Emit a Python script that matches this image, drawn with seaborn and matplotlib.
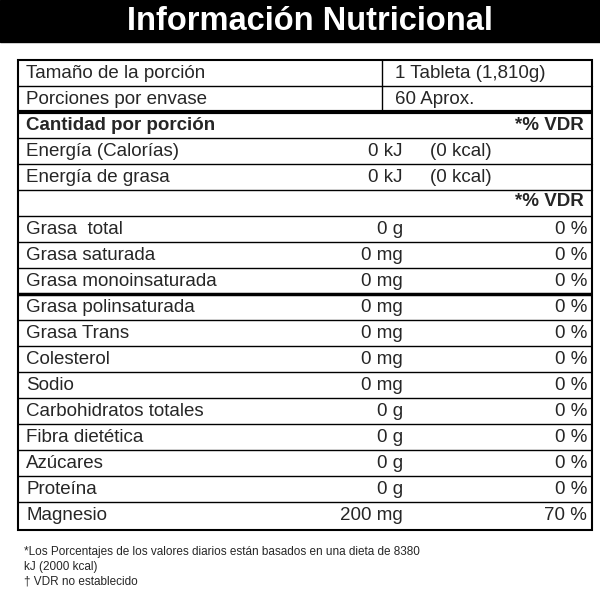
import matplotlib
matplotlib.use("Agg")
import matplotlib.pyplot as plt
import seaborn as sns

sns.set_style("white")
plt.rcParams['font.family'] = ['Liberation Sans', 'DejaVu Sans']

title = "Información Nutricional"
header_labels = ["Tamaño de la porción", "Porciones por envase"]
header_values = ["1 Tableta (1,810g)", "60 Aprox."]
energy_labels = ["Energía (Calorías)", "Energía de grasa"]
energy_kj = ["0 kJ", "0 kJ"]
energy_kcal = ["(0 kcal)", "(0 kcal)"]
nutrients = ["Grasa  total", "Grasa saturada", "Grasa monoinsaturada", "Grasa polinsaturada",
             "Grasa Trans", "Colesterol", "Sodio", "Carbohidratos totales", "Fibra dietética",
             "Azúcares", "Proteína", "Magnesio"]
amounts = ["0 g", "0 mg", "0 mg", "0 mg", "0 mg", "0 mg", "0 mg", "0 g", "0 g", "0 g", "0 g", "200 mg"]
percents = ["0 %", "0 %", "0 %", "0 %", "0 %", "0 %", "0 %", "0 %", "0 %", "0 %", "0 %", "70 %"]
footnote = ["*Los Porcentajes de los valores diarios están basados en una dieta de 8380",
            "kJ (2000 kcal)", "† VDR no establecido"]

fig = plt.figure(figsize=(6, 6), dpi=100)
ax = fig.add_axes([0, 0, 1, 1])
ax.set_xlim(0, 600); ax.set_ylim(600, 0); ax.axis("off")

ax.add_patch(plt.Rectangle((0, 0), 600, 42, color="black"))
ax.text(310, 22, title, color="white", fontsize=23.5, fontweight="bold", ha="center", va="center")

L, R = 18, 592
top, rh = 60, 26
ax.add_patch(plt.Rectangle((L, top), R - L, 470, fill=False, lw=1.5, color="black"))
fs = 13.5
y = top + rh / 2 + 1
for lab, val in zip(header_labels, header_values):
    ax.text(26, y, lab, fontsize=fs, va="center")
    ax.text(395, y, val, fontsize=fs, va="center")
    y += rh
ax.plot([382, 382], [top, top + 2 * rh], color="black", lw=1)
ax.plot([L, R], [top + rh, top + rh], color="black", lw=1)
ax.plot([L, R], [top + 2 * rh, top + 2 * rh], color="black", lw=3, solid_capstyle="butt")
ax.text(26, y, "Cantidad por porción", fontsize=fs, fontweight="bold", va="center")
ax.text(584, y, "*% VDR", fontsize=fs, fontweight="bold", va="center", ha="right")
y += rh
for i, (lab, kj, kc) in enumerate(zip(energy_labels, energy_kj, energy_kcal)):
    ax.plot([L, R], [y - rh / 2 - 1, y - rh / 2 - 1], color="black", lw=1)
    ax.text(26, y, lab, fontsize=fs, va="center")
    ax.text(403, y, kj, fontsize=fs, va="center", ha="right")
    ax.text(430, y, kc, fontsize=fs, va="center")
    y += rh
ax.plot([L, R], [y - rh / 2 - 1, y - rh / 2 - 1], color="black", lw=1)
ax.text(584, y - 2, "*% VDR", fontsize=fs, fontweight="bold", va="center", ha="right")
y += rh
for i, (lab, am, pc) in enumerate(zip(nutrients, amounts, percents)):
    ax.plot([L, R], [y - rh / 2 - 1, y - rh / 2 - 1], color="black",
            lw=2.5 if i == 3 else 1, solid_capstyle="butt")
    ax.text(26, y, lab, fontsize=fs, va="center")
    ax.text(403, y, am, fontsize=fs, va="center", ha="right")
    ax.text(587, y, pc, fontsize=fs, va="center", ha="right")
    y += rh
for j, t in enumerate(footnote):
    ax.text(24, 552 + j * 15, t, fontsize=8.5, va="center")

fig.savefig("out.png", dpi=100)
